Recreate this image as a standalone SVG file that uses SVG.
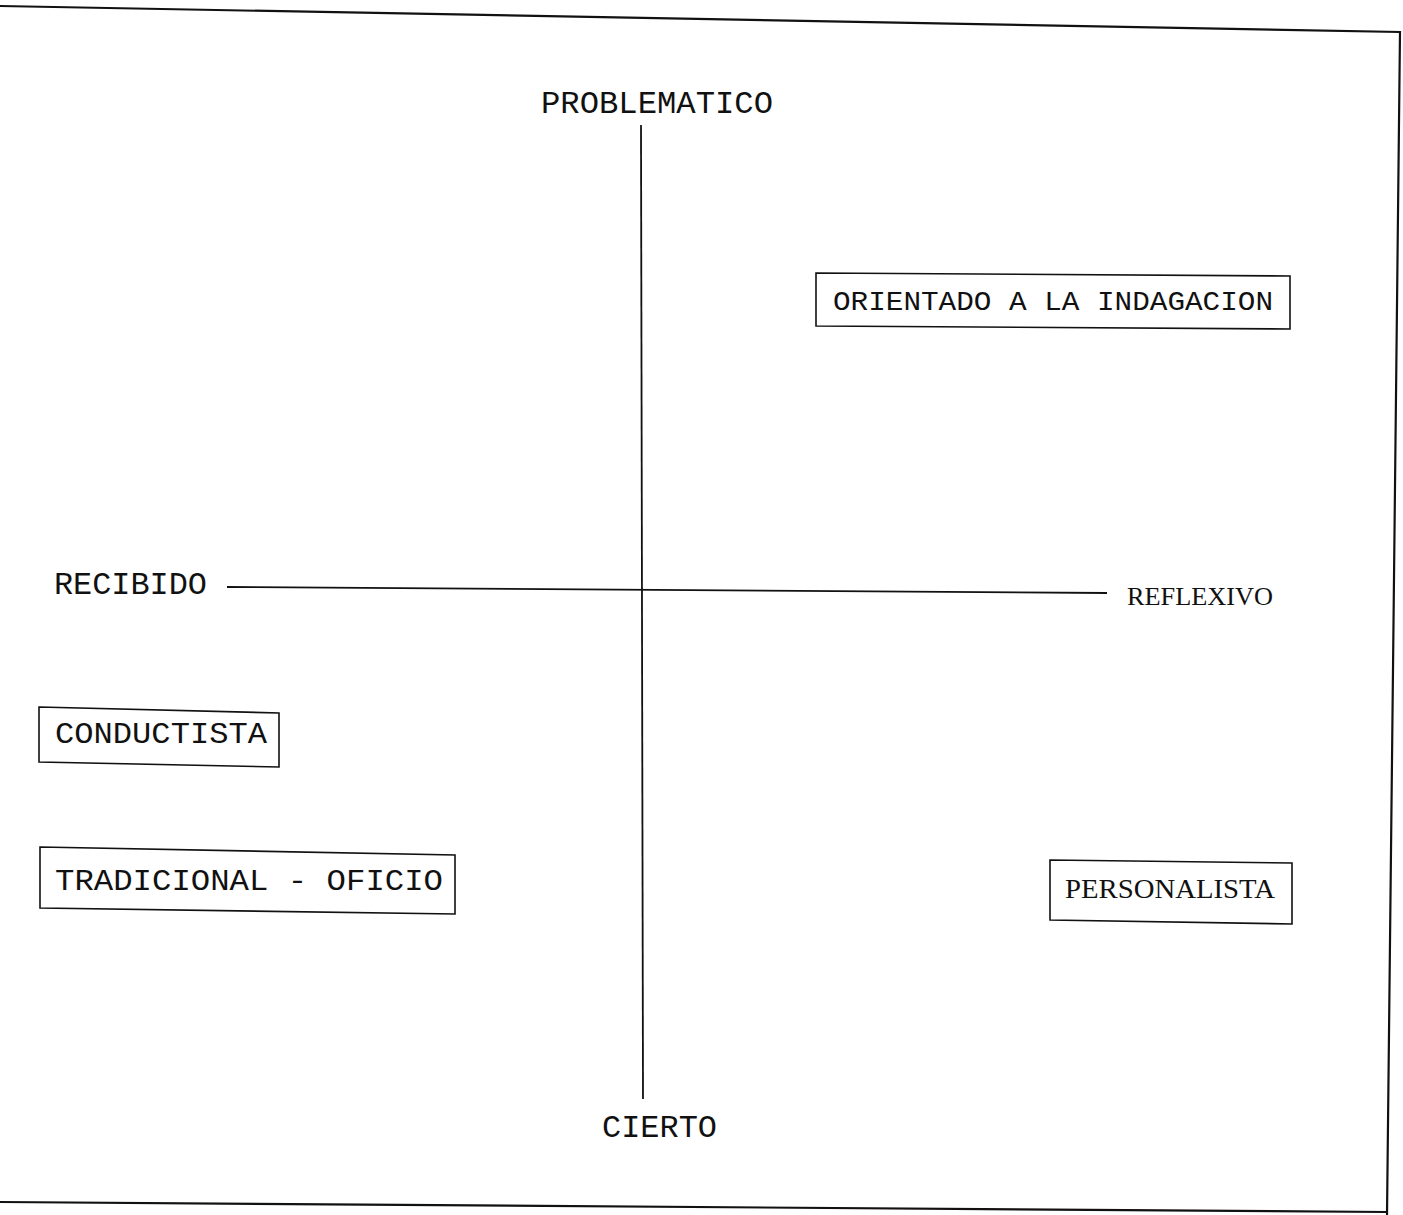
<svg xmlns="http://www.w3.org/2000/svg" width="1403" height="1215" viewBox="0 0 1403 1215">
<style>
.frame{fill:none;stroke:#111;stroke-width:2.2}
.axis{fill:none;stroke:#111;stroke-width:1.8}
.box{fill:none;stroke:#111;stroke-width:1.6}
.mono{font-family:"Liberation Mono","Courier New",monospace;fill:#111}
.serif{font-family:"Liberation Serif","Times New Roman",serif;fill:#111}
</style>
<rect width="1403" height="1215" fill="#fff"/>
<g id="frame">
<polyline class="frame" points="0,6 1400,32 1387,1215"/>
<line class="frame" x1="0" y1="1202" x2="1387" y2="1212"/>
</g>
<g id="connectors">
<line class="axis" x1="641" y1="125" x2="643" y2="1099"/>
<line class="axis" x1="227" y1="587" x2="1107" y2="593"/>
</g>
<g id="problematico"><text class="mono" x="541" y="113" font-size="31" textLength="232" lengthAdjust="spacingAndGlyphs">PROBLEMATICO</text></g>
<g id="cierto"><text class="mono" x="602" y="1137" font-size="31" textLength="115" lengthAdjust="spacingAndGlyphs">CIERTO</text></g>
<g id="recibido"><text class="mono" x="54" y="594" font-size="31" textLength="153" lengthAdjust="spacingAndGlyphs">RECIBIDO</text></g>
<g id="reflexivo"><text class="serif" x="1127" y="605" font-size="26" textLength="146" lengthAdjust="spacingAndGlyphs">REFLEXIVO</text></g>
<g id="orientado">
<polygon class="box" points="816,273 1290,276 1290,329 816,326"/>
<text class="mono" x="833" y="310" font-size="28" textLength="440" lengthAdjust="spacingAndGlyphs">ORIENTADO A LA INDAGACION</text>
</g>
<g id="conductista">
<polygon class="box" points="39,707 279,713 279,767 39,762"/>
<text class="mono" x="55" y="743" font-size="30" textLength="212" lengthAdjust="spacingAndGlyphs">CONDUCTISTA</text>
</g>
<g id="tradicional">
<polygon class="box" points="40,847 455,855 455,914 40,908"/>
<text class="mono" x="55" y="890" font-size="30" textLength="388" lengthAdjust="spacingAndGlyphs">TRADICIONAL - OFICIO</text>
</g>
<g id="personalista">
<polygon class="box" points="1050,860 1292,863 1292,924 1050,920"/>
<text class="serif" x="1065" y="898" font-size="28" textLength="210" lengthAdjust="spacingAndGlyphs">PERSONALISTA</text>
</g>
</svg>
